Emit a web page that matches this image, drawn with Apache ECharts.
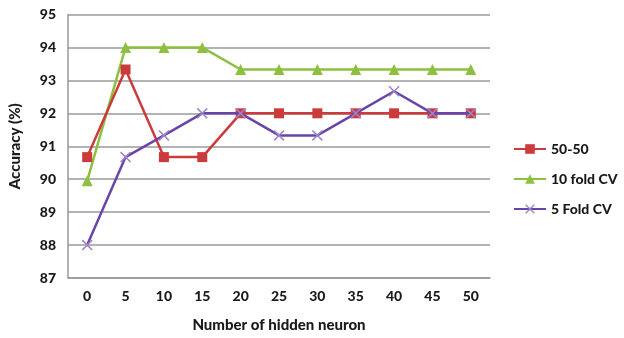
<!DOCTYPE html>
<html>
<head>
<meta charset="utf-8">
<script src="https://cdn.jsdelivr.net/npm/echarts@6/dist/echarts.min.js"></script>
<style>
  html, body { margin: 0; padding: 0; background: #fff; }
  #chart { width: 624px; height: 338px; }
</style>
</head>
<body>
<div id="chart"></div>
<script>
// Hidden neuron counts on the x axis
const neurons = ['0', '5', '10', '15', '20', '25', '30', '35', '40', '45', '50'];

// Accuracy (%) for each validation scheme
const split5050 = [90.67, 93.33, 90.67, 90.67, 92, 92, 92, 92, 92, 92, 92];
const tenFoldCV = [89.95, 94, 94, 94, 93.33, 93.33, 93.33, 93.33, 93.33, 93.33, 93.33];
const fiveFoldCV = [88, 90.67, 91.33, 92, 92, 91.33, 91.33, 92, 92.67, 92, 92];

const FONT = 'Lato, "Open Sans", sans-serif';
const WEIGHT = 900;
const TEXT = '#1a1a1a';
const crossPath = 'path://M1,0L5,4L9,0L10,1L6,5L10,9L9,10L5,6L1,10L0,9L4,5L0,1Z';

const chart = echarts.init(document.getElementById('chart'), null, { renderer: 'canvas' });

chart.setOption({
  animation: false,
  backgroundColor: '#ffffff',
  textStyle: { fontFamily: FONT },
  grid: { left: 68, right: 134, top: 14.5, bottom: 51.7 },
  legend: {
    orient: 'vertical',
    left: 508,
    top: 137,
    itemWidth: 32,
    itemHeight: 12,
    itemGap: 16,
    textStyle: { fontFamily: FONT, fontWeight: WEIGHT, fontSize: 14, color: TEXT },
    data: ['50-50', '10 fold CV', '5 Fold CV']
  },
  xAxis: {
    type: 'category',
    data: neurons,
    boundaryGap: true,
    name: 'Number of hidden neuron',
    nameLocation: 'middle',
    nameGap: 40,
    nameTextStyle: { fontFamily: FONT, fontWeight: WEIGHT, fontSize: 15, color: TEXT },
    axisLine: { show: true, lineStyle: { color: '#9a9a9a', width: 1.5 } },
    axisTick: { show: false },
    axisLabel: { margin: 11, fontFamily: FONT, fontWeight: WEIGHT, fontSize: 14, color: TEXT }
  },
  yAxis: {
    type: 'value',
    min: 87,
    max: 95,
    interval: 1,
    name: 'Accuracy (%)',
    nameLocation: 'middle',
    nameGap: 45,
    nameRotate: 90,
    nameTextStyle: { fontFamily: FONT, fontWeight: WEIGHT, fontSize: 15, color: TEXT },
    axisLine: { show: true, lineStyle: { color: '#9a9a9a', width: 1.5 } },
    axisTick: { show: false },
    axisLabel: { margin: 12, fontFamily: FONT, fontWeight: WEIGHT, fontSize: 14, color: TEXT },
    splitLine: { show: true, lineStyle: { color: '#9a9a9a', width: 1.5 } }
  },
  series: [
    {
      name: '50-50',
      type: 'line',
      data: split5050,
      symbol: 'rect',
      symbolSize: 10,
      itemStyle: { color: '#cc3b3b' },
      lineStyle: { color: '#cc3b3b', width: 2.5 },
      z: 3
    },
    {
      name: '10 fold CV',
      type: 'line',
      data: tenFoldCV,
      symbol: 'triangle',
      symbolSize: 11,
      itemStyle: { color: '#8dc03f' },
      lineStyle: { color: '#8dc03f', width: 2.5 },
      z: 2
    },
    {
      name: '5 Fold CV',
      type: 'line',
      data: fiveFoldCV,
      symbol: crossPath,
      symbolSize: 11,
      itemStyle: { color: '#9b85c8' },
      lineStyle: { color: '#6a45a8', width: 2.5 },
      z: 4
    }
  ]
});
</script>
</body>
</html>
